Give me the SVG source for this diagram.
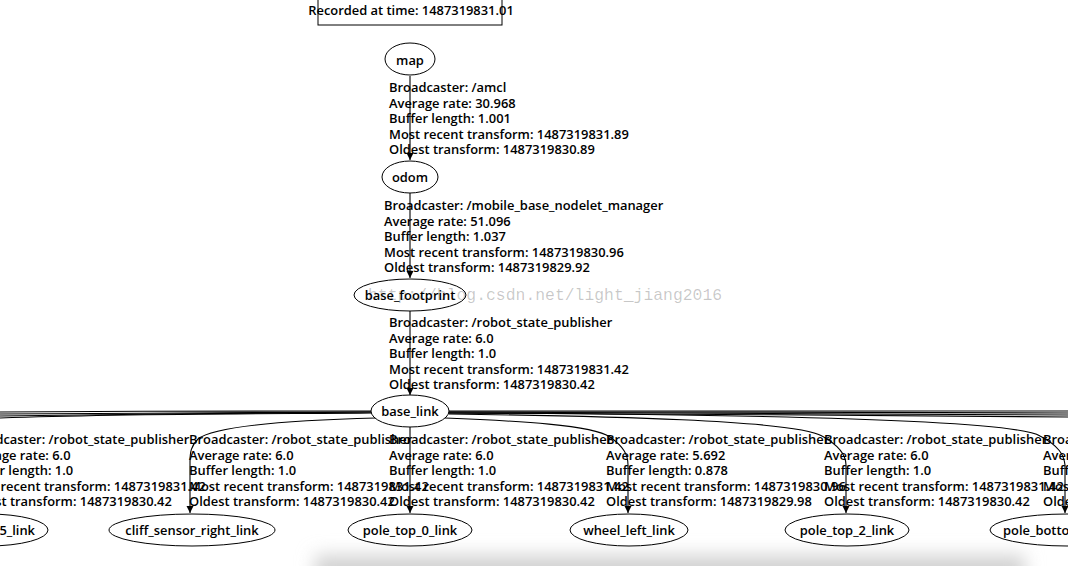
<svg xmlns="http://www.w3.org/2000/svg" width="1068" height="566" viewBox="0 0 1068 566">
<defs>
<marker id="arr" viewBox="0 0 10 10" refX="10" refY="5" markerUnits="userSpaceOnUse" markerWidth="7" markerHeight="8" orient="auto">
<path d="M0,0 L10,5 L0,10 z" fill="#000"/>
</marker>
<filter id="blur" x="-20%" y="-200%" width="140%" height="500%"><feGaussianBlur stdDeviation="9"/></filter>
<style>
text{font-family:"Open Sans","Noto Sans","DejaVu Sans",sans-serif;font-weight:600;font-size:12.9px;fill:#000}
.n text{text-anchor:middle}
ellipse{fill:#fff;stroke:#000;stroke-width:1}
.e path{fill:none;stroke:#000;stroke-width:1.1}
.a{marker-end:url(#arr)}
.wm{font-family:"Liberation Mono",monospace;font-weight:400;font-size:16.4px;fill:#000;fill-opacity:0.22}
</style>
</defs>
<rect width="1068" height="566" fill="#fff"/>
<rect x="315" y="555" width="710" height="30" fill="#d2d2d2" filter="url(#blur)"/>
<g id="header">
<rect x="318" y="-5" width="184" height="30" fill="none" stroke="#000"/>
<text x="411" y="14.5" text-anchor="middle">Recorded at time: 1487319831.01</text>
</g>
<g id="connectors" class="e">
<path class="a" d="M410,76 L410,160"/>
<path class="a" d="M410,193 L410,278"/>
<path class="a" d="M410,311 L410,395"/>
<path class="a" d="M410,427 L410,513"/>
<path d="M371,411 C300,411 120,411 0,412" stroke-width="1.8"/>
<path d="M371,412 C300,413 120,413 0,414" stroke-width="1.8"/>
<path d="M371,412 C300,413 120,414 0,416" stroke-width="1.8"/>
<path d="M372,413 C300,414 150,413 0,418"/>
<path class="a" d="M376,418 C300,420 215,425 198,439 C191,446 190,452 190,462 L190,513"/>
<path d="M449,411 C600,411 900,411 1068,411" stroke-width="1.8"/>
<path d="M449,412 C600,412 900,412 1068,413" stroke-width="1.8"/>
<path d="M449,412 C600,413 900,414 1068,415" stroke-width="1.8"/>
<path d="M448,413 C600,414 900,415 1068,417"/>
<path class="a" d="M445,418 C520,421 592,425 610,437 C624,447 628,455 628,465 L628,513"/>
<path class="a" d="M449,414 C600,416 795,420 822,436 C840,446 846,455 846,465 L846,513"/>
<path class="a" d="M449,413 C700,414 1012,418 1040,436 C1059,446 1064,455 1065,465 L1065,513"/>
</g>
<g id="map" class="n"><ellipse cx="410" cy="59" rx="25" ry="16"/><text x="410" y="64.5">map</text></g>
<g id="odom" class="n"><ellipse cx="410" cy="177" rx="28" ry="16"/><text x="410" y="181.5">odom</text></g>
<g id="base_footprint" class="n"><ellipse cx="410" cy="295" rx="56" ry="16"/><text x="410" y="299.5">base_footprint</text></g>
<g id="base_link" class="n"><ellipse cx="410" cy="411" rx="39" ry="16"/><text x="410" y="415.5">base_link</text></g>
<g id="link5" class="n"><ellipse cx="-12" cy="530" rx="60" ry="16"/><text x="35" y="534.5" style="text-anchor:end">5_link</text></g>
<g id="cliff_sensor_right_link" class="n"><ellipse cx="192" cy="530" rx="83" ry="16"/><text x="192" y="534.5">cliff_sensor_right_link</text></g>
<g id="pole_top_0_link" class="n"><ellipse cx="410" cy="530" rx="62" ry="16"/><text x="410" y="534.5">pole_top_0_link</text></g>
<g id="wheel_left_link" class="n"><ellipse cx="629" cy="530" rx="59" ry="16"/><text x="629" y="534.5">wheel_left_link</text></g>
<g id="pole_top_2_link" class="n"><ellipse cx="847" cy="530" rx="62" ry="16"/><text x="847" y="534.5">pole_top_2_link</text></g>
<g id="pole_bottom_link" class="n"><ellipse cx="1067" cy="530" rx="77" ry="16"/><text x="1003" y="534.5" style="text-anchor:start">pole_botto</text></g>
<g id="edge-labels">
<text x="389" y="92">Broadcaster: /amcl</text>
<text x="389" y="107.5">Average rate: 30.968</text>
<text x="389" y="123">Buffer length: 1.001</text>
<text x="389" y="138.5">Most recent transform: 1487319831.89</text>
<text x="389" y="154">Oldest transform: 1487319830.89</text>
<text x="384" y="210">Broadcaster: /mobile_base_nodelet_manager</text>
<text x="384" y="225.5">Average rate: 51.096</text>
<text x="384" y="241">Buffer length: 1.037</text>
<text x="384" y="256.5">Most recent transform: 1487319830.96</text>
<text x="384" y="272">Oldest transform: 1487319829.92</text>
<text x="389" y="327">Broadcaster: /robot_state_publisher</text>
<text x="389" y="342.5">Average rate: 6.0</text>
<text x="389" y="358">Buffer length: 1.0</text>
<text x="389" y="373.5">Most recent transform: 1487319831.42</text>
<text x="389" y="389">Oldest transform: 1487319830.42</text>
<text x="-34" y="444">Broadcaster: /robot_state_publisher</text>
<text x="-34" y="459.5">Average rate: 6.0</text>
<text x="-34" y="475">Buffer length: 1.0</text>
<text x="-34" y="490.5">Most recent transform: 1487319831.42</text>
<text x="-34" y="506">Oldest transform: 1487319830.42</text>
<text x="189" y="444">Broadcaster: /robot_state_publisher</text>
<text x="189" y="459.5">Average rate: 6.0</text>
<text x="189" y="475">Buffer length: 1.0</text>
<text x="189" y="490.5">Most recent transform: 1487319831.42</text>
<text x="189" y="506">Oldest transform: 1487319830.42</text>
<text x="389" y="444">Broadcaster: /robot_state_publisher</text>
<text x="389" y="459.5">Average rate: 6.0</text>
<text x="389" y="475">Buffer length: 1.0</text>
<text x="389" y="490.5">Most recent transform: 1487319831.42</text>
<text x="389" y="506">Oldest transform: 1487319830.42</text>
<text x="606" y="444">Broadcaster: /robot_state_publisher</text>
<text x="606" y="459.5">Average rate: 5.692</text>
<text x="606" y="475">Buffer length: 0.878</text>
<text x="606" y="490.5">Most recent transform: 1487319830.96</text>
<text x="606" y="506">Oldest transform: 1487319829.98</text>
<text x="824" y="444">Broadcaster: /robot_state_publisher</text>
<text x="824" y="459.5">Average rate: 6.0</text>
<text x="824" y="475">Buffer length: 1.0</text>
<text x="824" y="490.5">Most recent transform: 1487319831.42</text>
<text x="824" y="506">Oldest transform: 1487319830.42</text>
<text x="1043" y="444">Broadcaster: /robot_state_publisher</text>
<text x="1043" y="459.5">Average rate: 6.0</text>
<text x="1043" y="475">Buffer length: 1.0</text>
<text x="1043" y="490.5">Most recent transform: 1487319831.42</text>
<text x="1043" y="506">Oldest transform: 1487319830.42</text>
</g>
<text class="wm" x="368" y="300">http://blog.csdn.net/light_jiang2016</text>
</svg>
